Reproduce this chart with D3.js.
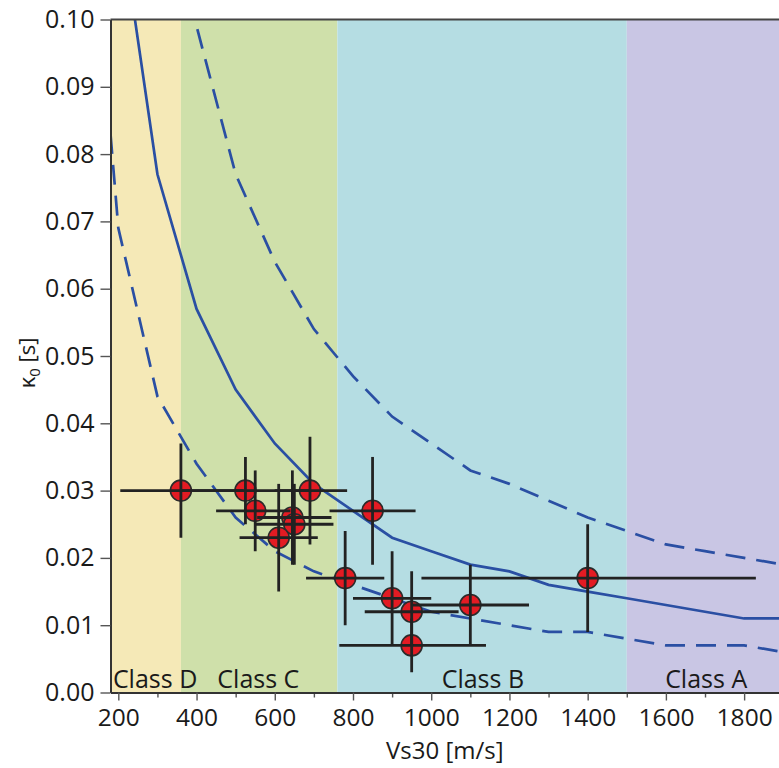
<!DOCTYPE html>
<html>
<head>
<meta charset="utf-8">
<script src="https://cdn.jsdelivr.net/npm/d3@7"></script>
<style>
  html, body { margin: 0; padding: 0; background: #fff; }
  svg { display: block; font-family: "Open Sans", sans-serif; }
</style>
</head>
<body>
<svg id="chart" width="779" height="768"></svg>
<script>
// ---------- data ----------
const classNames = ["Class D", "Class C", "Class B", "Class A"];
const classFrom  = [180, 360, 760, 1500];
const classTo    = [360, 760, 1500, 1893];
const classColors = ["#f5e9b7", "#cfe0aa", "#b5dde3", "#c9c6e4"];
const classLabelVs = [294, 558, 1132, 1703];

const xTicks = [200, 400, 600, 800, 1000, 1200, 1400, 1600, 1800];
const xMinorTicks = [300, 500, 700, 900, 1100, 1300, 1500, 1700];
const yTicks = [0, 0.01, 0.02, 0.03, 0.04, 0.05, 0.06, 0.07, 0.08, 0.09, 0.10];

// model curves
const vsMedian = [200, 300, 400, 500, 600, 700, 800, 900, 1000, 1100, 1200, 1300, 1400, 1500, 1600, 1700, 1800, 1900];
const kMedian  = [0.117, 0.077, 0.057, 0.045, 0.037, 0.031, 0.027, 0.023, 0.021, 0.019, 0.018, 0.016, 0.015, 0.014, 0.013, 0.012, 0.011, 0.011];
const vsUpper  = [300, 400, 500, 600, 700, 800, 900, 1000, 1100, 1200, 1300, 1400, 1500, 1600, 1700, 1800, 1900];
const kUpper   = [0.116, 0.099, 0.077, 0.064, 0.054, 0.047, 0.041, 0.037, 0.033, 0.031, 0.0285, 0.026, 0.024, 0.022, 0.021, 0.020, 0.019];
const vsLower  = [180, 200, 300, 400, 500, 600, 700, 800, 900, 1000, 1100, 1200, 1300, 1400, 1500, 1600, 1700, 1800, 1900];
const kLower   = [0.083, 0.069, 0.044, 0.034, 0.026, 0.021, 0.018, 0.016, 0.014, 0.012, 0.011, 0.010, 0.009, 0.009, 0.008, 0.007, 0.007, 0.007, 0.006];

// observations
const obsVs   = [360, 525, 550, 645, 650, 610, 690, 850, 780, 900, 950, 950, 1100, 1400];
const obsK    = [0.030, 0.030, 0.027, 0.026, 0.025, 0.023, 0.030, 0.027, 0.017, 0.014, 0.012, 0.007, 0.013, 0.017];
const obsVsLo = [205, 360, 450, 555, 550, 510, 600, 740, 680, 800, 830, 765, 950, 975];
const obsVsHi = [520, 690, 640, 745, 750, 710, 785, 960, 880, 1000, 1070, 1140, 1250, 1830];
const obsKLo  = [0.023, 0.025, 0.021, 0.019, 0.019, 0.015, 0.022, 0.019, 0.010, 0.007, 0.007, 0.003, 0.007, 0.009];
const obsKHi  = [0.037, 0.035, 0.033, 0.033, 0.031, 0.031, 0.038, 0.035, 0.024, 0.021, 0.018, 0.011, 0.019, 0.025];

// ---------- layout ----------
const svg = d3.select("#chart");
const x = d3.scaleLinear().domain([180, 1893]).range([110.5, 780.5]);
const y = d3.scaleLinear().domain([0, 0.10]).range([692.5, 19.5]);
const fontSize = 24.5;

svg.append("defs").append("clipPath").attr("id", "plotclip")
  .append("rect")
  .attr("x", x(180)).attr("y", y(0.10))
  .attr("width", x(1893) - x(180)).attr("height", y(0) - y(0.10));

// class backgrounds
const classes = classNames.map((n, i) => ({ name: n, from: classFrom[i], to: classTo[i], color: classColors[i], lv: classLabelVs[i] }));
svg.append("g").selectAll("rect").data(classes).join("rect")
  .attr("x", d => x(d.from)).attr("y", y(0.10))
  .attr("width", d => x(d.to) - x(d.from)).attr("height", y(0) - y(0.10))
  .attr("fill", d => d.color);

// class labels
svg.append("g").selectAll("text").data(classes).join("text")
  .attr("x", d => x(d.lv)).attr("y", 688)
  .attr("text-anchor", "middle")
  .attr("font-size", 25).attr("fill", "#1a1a1a")
  .text(d => d.name);

// curves
const line = d3.line().x(d => x(d[0])).y(d => y(d[1]));
const curveG = svg.append("g").attr("clip-path", "url(#plotclip)")
  .attr("fill", "none").attr("stroke", "#2a4fa3").attr("stroke-width", 2.7);
curveG.append("path").attr("d", line(d3.zip(vsMedian, kMedian)));
curveG.append("path").attr("d", line(d3.zip(vsUpper, kUpper))).attr("stroke-dasharray", "20,11");
curveG.append("path").attr("d", line(d3.zip(vsLower, kLower))).attr("stroke-dasharray", "20,11");

// observations
const obs = obsVs.map((v, i) => ({ v, k: obsK[i], vlo: obsVsLo[i], vhi: obsVsHi[i], klo: obsKLo[i], khi: obsKHi[i] }));
const obsG = svg.append("g").attr("clip-path", "url(#plotclip)");
obsG.selectAll("circle").data(obs).join("circle")
  .attr("cx", d => x(d.v)).attr("cy", d => y(d.k)).attr("r", 10.5)
  .attr("fill", "#e31b23").attr("stroke", "#2b2b2b").attr("stroke-width", 1.6);
const barG = obsG.append("g").attr("stroke", "#222").attr("stroke-width", 2.8);
barG.selectAll("line.h").data(obs).join("line").attr("class", "h")
  .attr("x1", d => x(d.vlo)).attr("x2", d => x(d.vhi))
  .attr("y1", d => y(d.k)).attr("y2", d => y(d.k));
barG.selectAll("line.v").data(obs).join("line").attr("class", "v")
  .attr("x1", d => x(d.v)).attr("x2", d => x(d.v))
  .attr("y1", d => y(d.klo)).attr("y2", d => y(d.khi));

// top frame line
svg.append("line")
  .attr("x1", x(180)).attr("x2", 780).attr("y1", y(0.10)).attr("y2", y(0.10))
  .attr("stroke", "#444").attr("stroke-width", 2);

// x axis (minor ticks)
svg.append("g").attr("transform", `translate(0,${y(0)})`)
  .call(d3.axisBottom(x).tickValues(xMinorTicks).tickSize(5).tickFormat(""))
  .call(g => g.select(".domain").remove())
  .call(g => g.selectAll("line").attr("stroke", "#555").attr("stroke-width", 1.4));

// x axis (major)
const xAxis = svg.append("g").attr("transform", `translate(0,${y(0)})`)
  .call(d3.axisBottom(x).tickValues(xTicks).tickSize(8).tickSizeOuter(0).tickPadding(8).tickFormat(d3.format("d")));
xAxis.select(".domain").attr("stroke", "#333").attr("stroke-width", 2);
xAxis.selectAll(".tick line").attr("stroke", "#555").attr("stroke-width", 1.4);
xAxis.selectAll("text").attr("font-size", fontSize).attr("fill", "#1a1a1a").attr("font-family", "Open Sans, sans-serif");

// y axis
const yAxis = svg.append("g").attr("transform", `translate(${x(180)},0)`)
  .call(d3.axisLeft(y).tickValues(yTicks).tickSize(10).tickSizeOuter(0).tickPadding(6).tickFormat(d3.format(".2f")));
yAxis.select(".domain").attr("stroke", "#333").attr("stroke-width", 2);
yAxis.selectAll(".tick line").attr("stroke", "#555").attr("stroke-width", 1.4);
yAxis.selectAll("text").attr("font-size", 25).attr("fill", "#1a1a1a").attr("font-family", "Open Sans, sans-serif");

// axis titles
svg.append("text")
  .attr("x", (x(180) + 779) / 2).attr("y", 759)
  .attr("text-anchor", "middle").attr("font-size", 24).attr("fill", "#1a1a1a")
  .text("Vs30 [m/s]");

const yt = svg.append("text")
  .attr("transform", "translate(35,363) rotate(-90)")
  .attr("text-anchor", "middle").attr("font-size", 22).attr("fill", "#1a1a1a");
yt.append("tspan").text("κ");
yt.append("tspan").attr("font-size", 15).attr("dy", 5).text("0");
yt.append("tspan").attr("dy", -5).text(" [s]");
</script>
</body>
</html>
